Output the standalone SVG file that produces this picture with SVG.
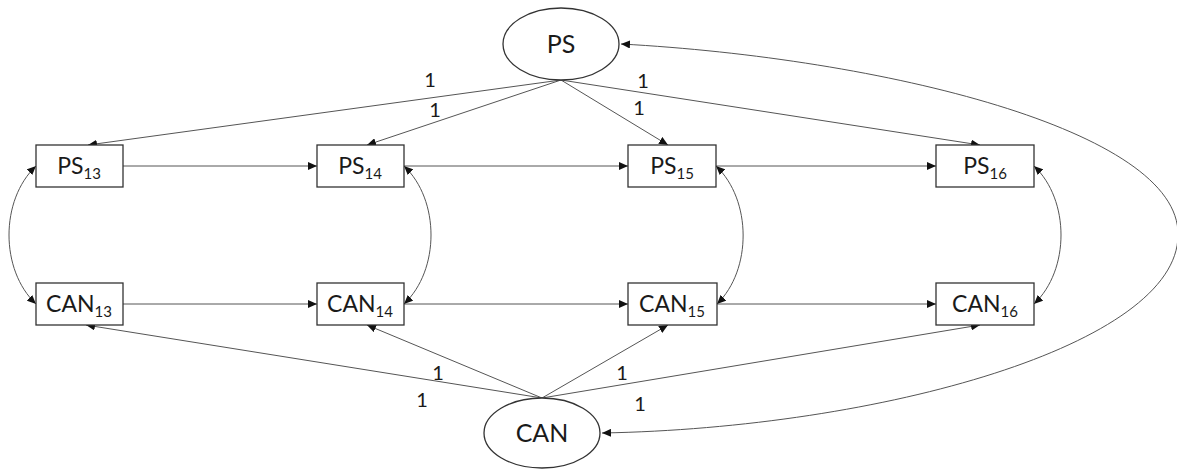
<svg xmlns="http://www.w3.org/2000/svg" width="1177" height="469" viewBox="0 0 1177 469">
<style>
.node{fill:#fff;stroke:#333;stroke-width:1.3}
.lbl{font-family:Lato,"Liberation Sans",sans-serif;font-size:23px;fill:#1a1a1a;text-anchor:middle}
.sub{font-size:15px}
.big{font-size:25px}
.one{font-family:Lato,"Liberation Sans",sans-serif;font-size:20px;fill:#1a1a1a;text-anchor:middle}
.c{fill:none;stroke:#555;stroke-width:1}
.a{marker-end:url(#ah)}
.d{marker-start:url(#ah);marker-end:url(#ah)}
</style>
<defs>
<marker id="ah" markerUnits="userSpaceOnUse" markerWidth="10" markerHeight="8" refX="9" refY="4" orient="auto-start-reverse">
<path d="M0,0 L9,4 L0,8 Z" fill="#111"/>
</marker>
</defs>
<rect width="1177" height="469" fill="#fff"/>
<g id="connectors">
<line class="c a" x1="561" y1="80" x2="88" y2="145"/>
<line class="c a" x1="561" y1="80" x2="367" y2="145"/>
<line class="c a" x1="561" y1="80" x2="668" y2="145"/>
<line class="c a" x1="561" y1="80" x2="980" y2="145"/>
<line class="c a" x1="542" y1="398" x2="86" y2="325"/>
<line class="c a" x1="542" y1="398" x2="367" y2="325"/>
<line class="c a" x1="542" y1="398" x2="668" y2="325"/>
<line class="c a" x1="542" y1="398" x2="980" y2="325"/>
<line class="c a" x1="123" y1="166" x2="317" y2="166"/>
<line class="c a" x1="404" y1="166" x2="628" y2="166"/>
<line class="c a" x1="716" y1="166" x2="936" y2="166"/>
<line class="c a" x1="123" y1="304" x2="317" y2="304"/>
<line class="c a" x1="404" y1="304" x2="628" y2="304"/>
<line class="c a" x1="717" y1="304" x2="936" y2="304"/>
<path class="c d" d="M36,166 C0,200 0,270 36,304"/>
<path class="c d" d="M404,166 C440,200 440,270 404,304"/>
<path class="c d" d="M716,166 C752,200 752,270 717,304"/>
<path class="c d" d="M1034,166 C1070,200 1070,270 1034,304"/>
<path class="c d" d="M621,44 C880,58 1180,130 1178,235 C1178,345 880,428 602,433"/>
<text class="one" x="430" y="87">1</text>
<text class="one" x="435" y="117">1</text>
<text class="one" x="643" y="88">1</text>
<text class="one" x="639" y="115">1</text>
<text class="one" x="438" y="380">1</text>
<text class="one" x="422" y="407">1</text>
<text class="one" x="622" y="380">1</text>
<text class="one" x="640" y="411">1</text>
</g>
<g id="PS">
<ellipse class="node" cx="561" cy="44" rx="58" ry="36"/>
<text class="lbl big" x="561" y="53">PS</text>
</g>
<g id="CAN">
<ellipse class="node" cx="542" cy="433" rx="58" ry="35"/>
<text class="lbl big" x="542" y="442">CAN</text>
</g>
<g id="PS13">
<rect class="node" x="36" y="145" width="87" height="42"/>
<text class="lbl" x="79" y="174">PS<tspan class="sub" dy="5">13</tspan></text>
</g>
<g id="PS14">
<rect class="node" x="317" y="145" width="87" height="42"/>
<text class="lbl" x="360" y="174">PS<tspan class="sub" dy="5">14</tspan></text>
</g>
<g id="PS15">
<rect class="node" x="628" y="145" width="88" height="42"/>
<text class="lbl" x="672" y="174">PS<tspan class="sub" dy="5">15</tspan></text>
</g>
<g id="PS16">
<rect class="node" x="936" y="145" width="98" height="42"/>
<text class="lbl" x="985" y="174">PS<tspan class="sub" dy="5">16</tspan></text>
</g>
<g id="CAN13">
<rect class="node" x="36" y="283" width="87" height="42"/>
<text class="lbl" x="79" y="312">CAN<tspan class="sub" dy="5">13</tspan></text>
</g>
<g id="CAN14">
<rect class="node" x="317" y="283" width="87" height="42"/>
<text class="lbl" x="360" y="312">CAN<tspan class="sub" dy="5">14</tspan></text>
</g>
<g id="CAN15">
<rect class="node" x="628" y="283" width="89" height="42"/>
<text class="lbl" x="672" y="312">CAN<tspan class="sub" dy="5">15</tspan></text>
</g>
<g id="CAN16">
<rect class="node" x="936" y="283" width="98" height="42"/>
<text class="lbl" x="985" y="312">CAN<tspan class="sub" dy="5">16</tspan></text>
</g>
</svg>
